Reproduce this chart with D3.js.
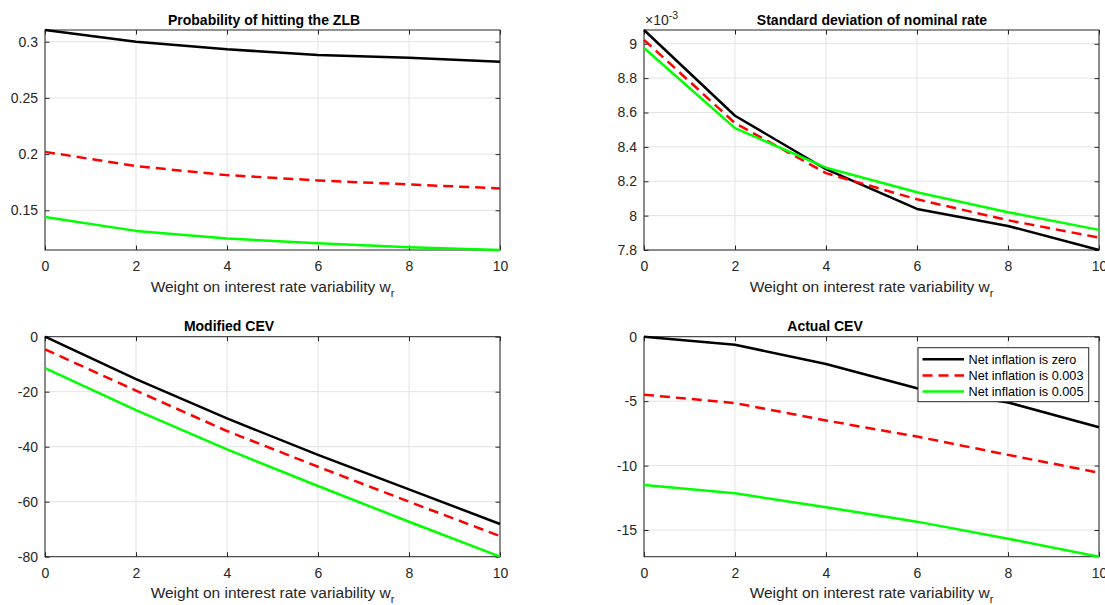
<!DOCTYPE html>
<html>
<head>
<meta charset="utf-8">
<script src="https://cdn.jsdelivr.net/npm/d3@7/dist/d3.min.js"></script>
<style>
  html, body { margin: 0; padding: 0; background: #fff; }
  svg { display: block; font-family: "Liberation Sans", Arial, Helvetica, sans-serif; }
</style>
</head>
<body>
<svg id="chart" width="1105" height="605"></svg>
<script>
// ---- Data ----
const xValues = [0, 2, 4, 6, 8, 10];
const xTicks = [0, 2, 4, 6, 8, 10];
const seriesNames = ["Net inflation is zero", "Net inflation is 0.003", "Net inflation is 0.005"];

// Probability of hitting the ZLB
const zlbZero = [0.3104, 0.3000, 0.2932, 0.2882, 0.2858, 0.2822];
const zlb003  = [0.2020, 0.1893, 0.1813, 0.1766, 0.1730, 0.1695];
const zlb005  = [0.1440, 0.1317, 0.1249, 0.1208, 0.1172, 0.1147];
const zlbTicks = [0.15, 0.2, 0.25, 0.3];
const zlbTickLabels = ["0.15", "0.2", "0.25", "0.3"];

// Standard deviation of nominal rate
const sdZero = [0.009080, 0.008581, 0.008270, 0.008039, 0.007940, 0.007800];
const sd003  = [0.009023, 0.008538, 0.008247, 0.008095, 0.007973, 0.007872];
const sd005  = [0.008975, 0.008509, 0.008279, 0.008136, 0.008020, 0.007917];
const sdTicks = [0.0078, 0.0080, 0.0082, 0.0084, 0.0086, 0.0088, 0.0090];
const sdTickLabels = ["7.8", "8", "8.2", "8.4", "8.6", "8.8", "9"];

// Modified CEV
const mcevZero = [0, -15.4, -29.7, -43.0, -55.5, -68.1];
const mcev003  = [-4.6, -19.6, -34.3, -47.3, -60.0, -72.5];
const mcev005  = [-11.4, -26.7, -41.0, -54.3, -67.3, -80.0];
const mcevTicks = [-80, -60, -40, -20, 0];
const mcevTickLabels = ["-80", "-60", "-40", "-20", "0"];

// Actual CEV
const acevZero = [0, -0.62, -2.12, -4.0, -5.1, -7.02];
const acev003  = [-4.5, -5.15, -6.5, -7.75, -9.17, -10.55];
const acev005  = [-11.5, -12.15, -13.23, -14.35, -15.67, -17.07];
const acevTicks = [-15, -10, -5, 0];
const acevTickLabels = ["-15", "-10", "-5", "0"];

// ---- Styles ----
const colors = ["#000000", "#ff0000", "#00ff00"];
const dashes = [null, "10,6", null];
const axisColor = "#262626";
const gridColor = "#e3e3e3";

const svg = d3.select("#chart");

const panels = [
  { title: "Probability of hitting the ZLB", titleX: 264, series: [zlbZero, zlb003, zlb005],
    ticks: zlbTicks, labels: zlbTickLabels, x0: 45, x1: 500, y0: 30, y1: 250 },
  { title: "Standard deviation of nominal rate", titleX: 872, series: [sdZero, sd003, sd005],
    ticks: sdTicks, labels: sdTickLabels, x0: 644, x1: 1099, y0: 30, y1: 250, exponent: true },
  { title: "Modified CEV", titleX: 229, series: [mcevZero, mcev003, mcev005],
    ticks: mcevTicks, labels: mcevTickLabels, x0: 45, x1: 500, y0: 336.7, y1: 556.7 },
  { title: "Actual CEV", titleX: 825, series: [acevZero, acev003, acev005],
    ticks: acevTicks, labels: acevTickLabels, x0: 644, x1: 1099, y0: 336.7, y1: 556.7, legend: true }
];

panels.forEach(p => {
  const g = svg.append("g");
  const x = d3.scaleLinear().domain(d3.extent(xValues)).range([p.x0, p.x1]);
  const allY = p.series.flat();
  const y = d3.scaleLinear().domain(d3.extent(allY)).range([p.y1, p.y0]);

  g.append("rect").attr("x", p.x0).attr("y", p.y0)
    .attr("width", p.x1 - p.x0).attr("height", p.y1 - p.y0).attr("fill", "#fff");

  // grid
  g.selectAll(".gx").data(xTicks).enter().append("line")
    .attr("x1", d => x(d)).attr("x2", d => x(d))
    .attr("y1", p.y0).attr("y2", p.y1)
    .attr("stroke", gridColor).attr("stroke-width", 1);
  g.selectAll(".gy").data(p.ticks).enter().append("line")
    .attr("x1", p.x0).attr("x2", p.x1)
    .attr("y1", d => y(d)).attr("y2", d => y(d))
    .attr("stroke", gridColor).attr("stroke-width", 1);

  // axes (ticks inward, on all four sides)
  const tl = 4.5;
  const fmtX = d => String(d);
  const yLabelMap = new Map(p.ticks.map((t, i) => [t, p.labels[i]]));
  const fmtY = d => yLabelMap.get(d);

  const axB = g.append("g").attr("transform", `translate(0,${p.y1})`)
    .call(d3.axisBottom(x).tickValues(xTicks).tickFormat(fmtX).tickSizeInner(-tl).tickSizeOuter(0).tickPadding(11.5));
  const axT = g.append("g").attr("transform", `translate(0,${p.y0})`)
    .call(d3.axisTop(x).tickValues(xTicks).tickFormat("").tickSizeInner(-tl).tickSizeOuter(0));
  const axL = g.append("g").attr("transform", `translate(${p.x0},0)`)
    .call(d3.axisLeft(y).tickValues(p.ticks).tickFormat(fmtY).tickSizeInner(-tl).tickSizeOuter(0).tickPadding(7));
  const axR = g.append("g").attr("transform", `translate(${p.x1},0)`)
    .call(d3.axisRight(y).tickValues(p.ticks).tickFormat("").tickSizeInner(-tl).tickSizeOuter(0));

  [axB, axT, axL, axR].forEach(a => {
    a.select(".domain").remove();
    a.selectAll(".tick line").attr("stroke", axisColor).attr("stroke-width", 1);
    a.selectAll(".tick text").attr("fill", axisColor)
      .style("font-size", "14px")
      .style("font-family", '"Liberation Sans", Arial, Helvetica, sans-serif');
  });

  // box
  g.append("rect").attr("x", p.x0).attr("y", p.y0)
    .attr("width", p.x1 - p.x0).attr("height", p.y1 - p.y0)
    .attr("fill", "none").attr("stroke", axisColor).attr("stroke-width", 1);

  // series lines
  const line = d3.line().x((d, i) => x(xValues[i])).y(d => y(d));
  p.series.forEach((s, i) => {
    g.append("path").datum(s).attr("d", line)
      .attr("fill", "none").attr("stroke", colors[i]).attr("stroke-width", 2.5)
      .attr("stroke-linejoin", "round")
      .attr("stroke-dasharray", dashes[i]);
  });

  // title
  g.append("text").attr("x", p.titleX).attr("y", p.y0 - 5.5)
    .attr("text-anchor", "middle").attr("font-weight", "bold")
    .attr("font-size", 14).attr("fill", "#000").text(p.title);

  // x label
  const xl = g.append("text").attr("x", (p.x0 + p.x1) / 2).attr("y", p.y1 + 41.5)
    .attr("text-anchor", "middle").attr("font-size", 15.5).attr("fill", axisColor);
  xl.append("tspan").text("Weight on interest rate variability w");
  xl.append("tspan").attr("dy", 5).attr("font-size", 11).text("r");

  // exponent label
  if (p.exponent) {
    const ex = g.append("text").attr("x", p.x0 + 1).attr("y", p.y0 - 5)
      .attr("font-size", 14).attr("fill", axisColor);
    ex.append("tspan").text("\u00d710");
    ex.append("tspan").attr("dy", -6).attr("font-size", 10.5).text("-3");
  }

  // legend
  if (p.legend) {
    const lx = 918, ly = 347.7, lw = 170.7, lh = 54;
    const lg = g.append("g");
    lg.append("rect").attr("x", lx).attr("y", ly).attr("width", lw).attr("height", lh)
      .attr("fill", "#fff").attr("stroke", axisColor).attr("stroke-width", 1);
    seriesNames.forEach((name, i) => {
      const yy = ly + 11.5 + i * 16.2;
      lg.append("line").attr("x1", lx + 4.5).attr("x2", lx + 46).attr("y1", yy).attr("y2", yy)
        .attr("stroke", colors[i]).attr("stroke-width", 2.5).attr("stroke-dasharray", dashes[i]);
      lg.append("text").attr("x", lx + 50.5).attr("y", yy + 4.6)
        .attr("font-size", 12.7).attr("fill", "#000").text(name);
    });
  }
});
</script>
</body>
</html>
